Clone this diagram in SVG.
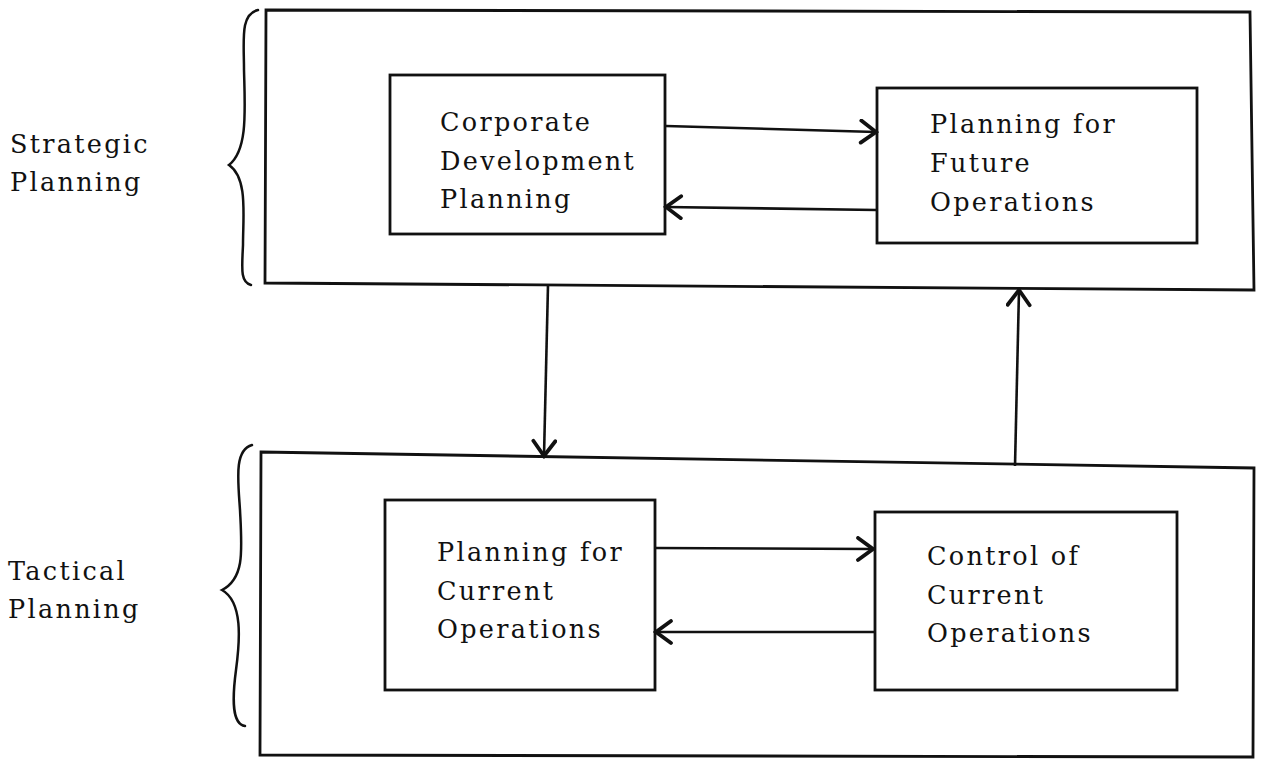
<svg xmlns="http://www.w3.org/2000/svg" width="1263" height="760" viewBox="0 0 1263 760">
<defs>
<style>
.box{fill:none;stroke:#111;stroke-width:2.8}
.ln{fill:none;stroke:#111;stroke-width:2.6}
.br{fill:none;stroke:#111;stroke-width:2.5;stroke-linecap:round}
text{font-family:"DejaVu Serif","Liberation Serif",serif;font-size:25.5px;fill:#111;letter-spacing:2.3px}
</style>
<marker id="ah" markerWidth="22" markerHeight="26" viewBox="0 0 22 26" refX="19" refY="13" orient="auto" markerUnits="userSpaceOnUse">
<polyline points="4,2 19,13 4,24" fill="none" stroke="#111" stroke-width="3.8" stroke-linejoin="miter" stroke-linecap="round"/>
</marker>
</defs>
<rect width="1263" height="760" fill="#fff"/>

<g id="strategic-label">
<text x="10" y="153">Strategic</text>
<text x="10" y="191">Planning</text>
<path class="br" d="M258,10 C240,14 244,40 244,70 C245,110 248,150 229,165 C248,178 243,215 243,245 C242,268 240,282 251,285"/>
</g>
<g id="tactical-label">
<text x="8" y="580">Tactical</text>
<text x="8" y="618">Planning</text>
<path class="br" d="M252,445 C234,450 238,480 240,510 C242,550 245,578 222,590 C243,602 240,640 236,670 C232,700 232,724 245,726"/>
</g>

<g id="strategic-box">
<path class="box" d="M266,10 L1250,12 L1254,290 L265,283 Z"/>
</g>
<g id="tactical-box">
<path class="box" d="M261,452 L1254,468 L1253,757 L260,755 Z"/>
</g>

<g id="corporate-development">
<rect class="box" x="390" y="75" width="275" height="159"/>
<text x="440" y="131">Corporate</text>
<text x="440" y="170">Development</text>
<text x="440" y="208">Planning</text>
</g>
<g id="future-operations">
<rect class="box" x="877" y="88" width="320" height="155"/>
<text x="930" y="133">Planning for</text>
<text x="930" y="172">Future</text>
<text x="930" y="211">Operations</text>
</g>
<g id="current-operations">
<rect class="box" x="385" y="500" width="270" height="190"/>
<text x="437" y="561">Planning for</text>
<text x="437" y="600">Current</text>
<text x="437" y="638">Operations</text>
</g>
<g id="control-operations">
<rect class="box" x="875" y="512" width="302" height="178"/>
<text x="927" y="565">Control of</text>
<text x="927" y="604">Current</text>
<text x="927" y="642">Operations</text>
</g>

<g id="connectors">
<line class="ln" x1="666" y1="126" x2="876" y2="132" marker-end="url(#ah)"/>
<line class="ln" x1="877" y1="210" x2="666" y2="207" marker-end="url(#ah)"/>
<line class="ln" x1="655" y1="548" x2="873" y2="549" marker-end="url(#ah)"/>
<line class="ln" x1="875" y1="632" x2="656" y2="632" marker-end="url(#ah)"/>
<line class="ln" x1="548" y1="285" x2="544" y2="456" marker-end="url(#ah)"/>
<line class="ln" x1="1015" y1="466" x2="1019" y2="290" marker-end="url(#ah)"/>
</g>
</svg>
